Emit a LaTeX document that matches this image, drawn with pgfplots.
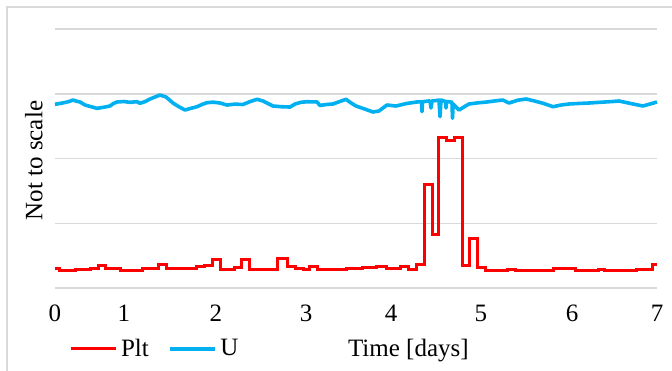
\documentclass[border=0pt]{standalone}
\usepackage{pgfplots}
\pgfplotsset{compat=1.18}
\usepackage{pgfplotstable}
\usepackage{fontspec}
\setmainfont{Liberation Serif}
\definecolor{gridgray}{HTML}{D9D9D9}
\definecolor{ublue}{HTML}{00B0F0}

\pgfplotstableread{
x y
0.000 0.304
0.058 0.267
0.233 0.286
0.407 0.301
0.500 0.347
0.593 0.304
0.756 0.273
1.023 0.304
1.198 0.363
1.291 0.304
1.651 0.332
1.733 0.355
1.826 0.443
1.919 0.290
2.093 0.320
2.174 0.443
2.256 0.290
2.593 0.450
2.698 0.330
2.791 0.304
2.884 0.290
2.965 0.330
3.058 0.290
3.198 0.280
3.384 0.300
3.581 0.320
3.733 0.330
3.849 0.300
4.023 0.330
4.105 0.290
4.209 0.366
4.291 1.601
4.384 0.834
4.465 2.327
4.558 2.275
4.651 2.327
4.733 0.355
4.814 0.757
4.907 0.314
5.000 0.267
5.267 0.290
5.349 0.267
5.791 0.300
6.047 0.267
6.314 0.290
6.395 0.267
6.767 0.289
6.942 0.366
7.000 0.366
}\pltdata

\pgfplotstableread{
x y
0.000 2.837
0.058 2.850
0.116 2.865
0.163 2.880
0.209 2.903
0.250 2.885
0.291 2.873
0.349 2.826
0.420 2.800
0.488 2.775
0.560 2.790
0.640 2.811
0.680 2.850
0.721 2.873
0.800 2.880
0.870 2.868
0.953 2.877
0.988 2.853
1.050 2.880
1.105 2.919
1.163 2.950
1.221 2.981
1.291 2.950
1.372 2.857
1.440 2.800
1.512 2.749
1.580 2.775
1.651 2.800
1.710 2.835
1.767 2.862
1.840 2.870
1.919 2.857
2.000 2.826
2.090 2.840
2.186 2.834
2.270 2.880
2.349 2.914
2.419 2.888
2.535 2.811
2.630 2.800
2.733 2.795
2.791 2.842
2.860 2.868
2.930 2.877
3.047 2.873
3.081 2.819
3.160 2.835
3.233 2.842
3.310 2.880
3.384 2.914
3.440 2.860
3.500 2.811
3.600 2.765
3.698 2.718
3.767 2.734
3.860 2.826
3.965 2.811
4.090 2.850
4.209 2.873
4.262 2.877
4.267 2.723
4.273 2.877
4.360 2.890
4.372 2.780
4.384 2.890
4.430 2.895
4.465 2.903
4.477 2.646
4.488 2.903
4.541 2.880
4.547 2.780
4.553 2.880
4.616 2.870
4.622 2.621
4.630 2.840
4.698 2.749
4.760 2.800
4.814 2.842
4.920 2.860
5.023 2.873
5.120 2.890
5.209 2.903
5.279 2.857
5.380 2.900
5.477 2.919
5.570 2.890
5.674 2.853
5.791 2.800
5.880 2.825
5.977 2.842
6.090 2.850
6.209 2.857
6.300 2.865
6.395 2.873
6.480 2.880
6.558 2.888
6.640 2.865
6.721 2.842
6.837 2.811
6.919 2.842
7.000 2.873
}\udata

\begin{document}
\begin{tikzpicture}[font=\rmfamily\fontsize{12.5bp}{15bp}\selectfont]
\useasboundingbox (-27.5bp,-41.5bp) rectangle (308.5bp,144bp);
\draw[gridgray, line width=0.75bp] (-24bp,-41.5bp) -- (-24bp,140.5bp) -- (308.5bp,140.5bp);
\begin{axis}[
  at={(0,0)}, anchor=south west,
  scale only axis, width=301bp, height=129.5bp,
  xmin=0, xmax=7, ymin=0, ymax=4,
  axis line style={draw=none},
  xtick={0,0.802,1.872,2.919,3.907,4.953,6.012,7},
  xticklabels={0,1,2,3,4,5,6,7},
  ytick={0,1,2,3,4}, yticklabels={},
  major tick length=0pt,
  ymajorgrids, grid style={gridgray, line width=0.75bp},
  /pgf/number format/assume math mode=true,
  xticklabel style={anchor=base, yshift=-16.85bp, font=\rmfamily\fontsize{12.5bp}{15bp}\selectfont},
  xlabel={Time [days]},
  xlabel style={at={(axis description cs:0.587,0)}, anchor=base, yshift=-34bp, font=\rmfamily\fontsize{12.5bp}{15bp}\selectfont},
  ylabel={Not to scale},
  ylabel style={at={(axis description cs:-0.0208,0.492)}, anchor=base, rotate=0, font=\rmfamily\fontsize{12.5bp}{15bp}\selectfont},
  legend style={draw=none, fill=none, at={(axis description cs:0.0233,-0.2355)}, anchor=west,
    legend columns=2, inner sep=0pt, outer sep=0pt,
    font=\rmfamily\fontsize{12.5bp}{15bp}\selectfont,
    /tikz/every even column/.append style={column sep=7.5bp}},
  legend image code/.code={\draw[#1] (0bp,0bp) -- (22.5bp,0bp);},
  clip=false,
]
\addplot[red, line width=1.5bp, const plot mark left] table {\pltdata};
\addlegendentry{Plt}
\addplot[ublue, line width=1.8bp, line join=round] table {\udata};
\addlegendentry{U}
\end{axis}
\end{tikzpicture}
\end{document}
